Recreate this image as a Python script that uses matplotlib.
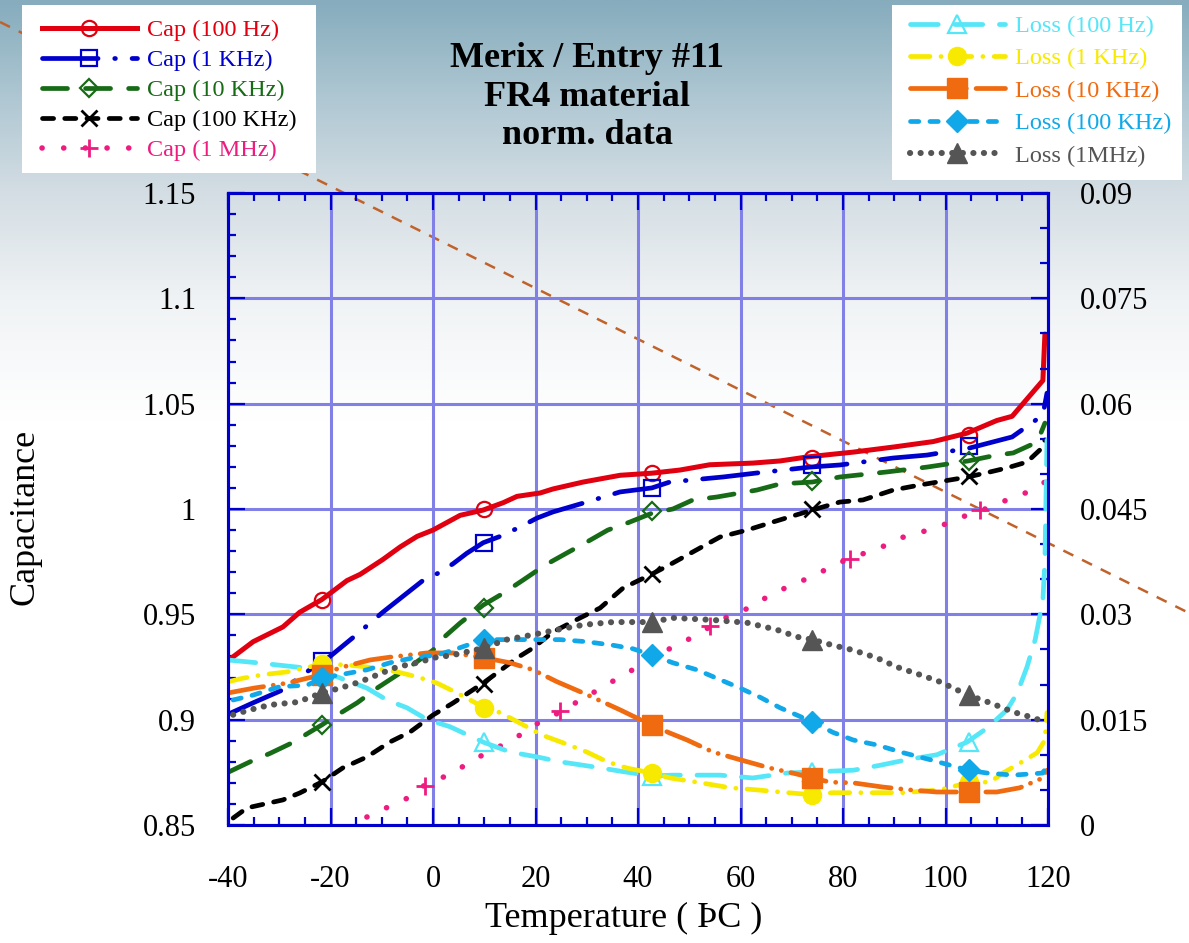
import numpy as np
import matplotlib.pyplot as plt
from matplotlib.lines import Line2D
from matplotlib.patches import Rectangle

plt.rcParams['font.family'] = ['Liberation Serif', 'DejaVu Serif']
plt.rcParams['lines.scale_dashes'] = False
plt.rcParams['axes.unicode_minus'] = False

# ---- data ----
cap100_t = [-40, -35.1, -29.3, -26.0, -21.7, -16.8, -14.2, -9.8, -6.4, -3.1, 0, 5.3, 9.8, 13.7, 16.4,
            20.9, 23.4, 29.3, 36.5, 42.7, 48.2, 54.0, 62.4, 67.7, 73.0, 78.0, 82.0, 89.8, 97.6, 104.2,
            110.0, 113.0, 119.0, 119.4]
cap100_v = [0.928, 0.937, 0.944, 0.951, 0.957, 0.966, 0.969, 0.976, 0.982, 0.987, 0.990, 0.997, 0.9995,
            1.003, 1.006, 1.0076, 1.0095, 1.0128, 1.016, 1.017, 1.0185, 1.021, 1.0218, 1.0228, 1.0247,
            1.026, 1.027, 1.0294, 1.032, 1.036, 1.042, 1.044, 1.061, 1.083]

cap1k_t = [-39.6, -35.1, -28.5, -26.3, -20.1, -15.6, -9.8, -2.0, 1.4, 3.9, 6.6, 9.8, 13.1, 17.0, 20.3,
           23.4, 30.0, 36.5, 42.7, 46.2, 56.6, 63.2, 73.6, 79.4, 89.8, 96.4, 104.8, 113.0, 119.0, 119.8]
cap1k_v = [0.903, 0.908, 0.915, 0.920, 0.930, 0.939, 0.951, 0.966, 0.970, 0.974, 0.979, 0.984, 0.987,
           0.9915, 0.9957, 0.9986, 1.0033, 1.0081, 1.010, 1.0128, 1.0152, 1.0171, 1.0199, 1.0209, 1.0242,
           1.0256, 1.029, 1.0342, 1.0446, 1.055]

cap10k_t = [-40, -35.7, -31.8, -27.5, -21.7, -19.5, -14.8, -10.9, -4.0, 0, 2.0, 5.3, 9.8, 13.7, 17.6,
            21.9, 26.1, 30.0, 34.1, 38.4, 42.7, 46.8, 50.7, 55.4, 63.2, 67.7, 74.0, 79.4, 88.6, 96.4,
            104.4, 110.0, 113.2, 117.9, 119.4]
cap10k_v = [0.875, 0.880, 0.884, 0.889, 0.8975, 0.901, 0.908, 0.915, 0.926, 0.933, 0.9388, 0.9459,
            0.9544, 0.960, 0.9663, 0.9734, 0.9791, 0.9843, 0.990, 0.9938, 0.998, 1.000, 1.0043, 1.0057,
            1.009, 1.0119, 1.0128, 1.0152, 1.0176, 1.0199, 1.0228, 1.0256, 1.0266, 1.0318, 1.0408]

cap100k_t = [-39.0, -36.3, -29.3, -26.0, -21.7, -17.6, -12.9, -8.4, -4.5, 0.0, 3.9, 9.8, 12.5, 16.4,
             19.5, 23.4, 28.7, 32.6, 37.1, 42.7, 45.7, 52.1, 56.0, 61.3, 66.3, 74.0, 79.4, 83.9, 89.8,
             95.0, 104.4, 108.7, 112.0, 115.9, 118.4, 119.4]
cap100k_v = [0.8533, 0.8581, 0.8619, 0.8652, 0.8704, 0.8771, 0.8823, 0.8894, 0.8941, 0.9022, 0.9079,
             0.9174, 0.9222, 0.9293, 0.934, 0.9416, 0.9483, 0.953, 0.9625, 0.9691, 0.9729, 0.9815,
             0.9867, 0.990, 0.9938, 0.9995, 1.0033, 1.0043, 1.009, 1.0114, 1.0152, 1.0176, 1.0195,
             1.0223, 1.028, 1.0328]

cap1m_t = [-12.9, -8.8, -4.5, -1.6, 3.9, 7.8, 12.5, 16.4, 20.5, 24.8, 28.7, 33.2, 37.1, 41.4, 45.7,
           49.6, 54.0, 58.0, 62.2, 66.3, 70.2, 74.9, 78.8, 81.4, 87.2, 91.1, 95.4, 99.5, 104.2, 106.7,
           112.0, 116.1, 119.4]
cap1m_v = [0.8538, 0.8585, 0.8633, 0.869, 0.8747, 0.8809, 0.8866, 0.8918, 0.8984, 0.9036, 0.9093,
           0.9155, 0.9212, 0.9269, 0.9331, 0.9378, 0.944, 0.9497, 0.9535, 0.9601, 0.9639, 0.9691,
           0.9739, 0.9767, 0.9815, 0.9862, 0.9891, 0.9924, 0.9971, 0.999, 1.0043, 1.0081, 1.0128]

loss100_t = [-40, -34.3, -25.4, -18.7, -12.9, -9.0, -5.1, -1.1, 3.3, 9.8, 15.0, 20.3, 24.8, 31.2, 37.1,
             42.7, 46.8, 56.0, 62.4, 69.1, 75.5, 82.0, 87.2, 92.5, 98.3, 104.2, 108.1, 112.0, 114.0,
             115.9, 117.5, 119.0, 119.4, 119.8]
loss100_v = [0.0235, 0.0231, 0.0224, 0.0211, 0.0195, 0.0178, 0.0167, 0.0150, 0.0140, 0.0118, 0.0104,
             0.0097, 0.0090, 0.0083, 0.0076, 0.0070, 0.0071, 0.0071, 0.0067, 0.0074, 0.0076, 0.0078,
             0.0085, 0.0093, 0.0100, 0.0118, 0.0138, 0.0164, 0.0188, 0.0225, 0.0264, 0.0320, 0.0377,
             0.0548]

loss1k_t = [-40, -37.1, -33.2, -28.5, -21.7, -16.8, -12.9, -7.0, -3.1, 0.8, 4.7, 9.8, 13.1, 17.0, 21.3,
            25.4, 30.0, 34.0, 37.9, 42.7, 46.2, 51.5, 58.0, 63.2, 67.7, 74.0, 78.0, 83.3, 91.7, 98.9,
            104.8, 108.7, 111.2, 114.5, 117.9, 119.4, 119.8]
loss1k_v = [0.0204, 0.0209, 0.0214, 0.0218, 0.0229, 0.0228, 0.0225, 0.0218, 0.0211, 0.0202, 0.0188,
            0.0168, 0.0160, 0.0145, 0.0128, 0.0117, 0.0104, 0.0090, 0.0081, 0.0074, 0.0067, 0.0061,
            0.0053, 0.0050, 0.0047, 0.0043, 0.0046, 0.0046, 0.0046, 0.0050, 0.0061, 0.0061, 0.0074,
            0.0088, 0.0103, 0.0121, 0.0160]

loss10k_t = [-40, -34.9, -28.5, -21.7, -18.1, -12.3, -8.4, -1.2, 3.9, 10.1, 15.0, 19.5, 24.2, 29.3,
             36.5, 42.7, 46.2, 49.6, 54.6, 59.9, 65.8, 70.2, 74.0, 77.5, 82.0, 87.8, 93.1, 98.3, 104.8,
             110.0, 114.5, 119.0, 119.8]
loss10k_v = [0.0188, 0.0195, 0.0202, 0.0214, 0.0224, 0.0235, 0.0239, 0.0245, 0.0245, 0.0238, 0.0231,
             0.0221, 0.0204, 0.0188, 0.0164, 0.0142, 0.0131, 0.0121, 0.0104, 0.0093, 0.0081, 0.0074,
             0.0067, 0.0061, 0.0060, 0.0054, 0.0050, 0.0047, 0.0047, 0.0047, 0.0053, 0.0067, 0.0078]

loss100k_t = [-39.0, -35.1, -29.9, -24.6, -21.7, -18.1, -12.9, -8.4, -3.9, 0.8, 3.9, 9.8, 15.0, 20.9,
              24.8, 30.0, 35.1, 39.0, 42.7, 46.8, 51.5, 56.0, 59.9, 63.8, 67.7, 74.0, 78.0, 82.0, 86.6,
              91.7, 97.0, 104.4, 108.1, 113.2, 119.0, 119.8]
loss100k_v = [0.0178, 0.0185, 0.0197, 0.0199, 0.0209, 0.0214, 0.0221, 0.0231, 0.0238, 0.0242, 0.0249,
              0.0264, 0.0264, 0.0264, 0.0264, 0.0261, 0.0256, 0.0251, 0.0242, 0.0231, 0.0221, 0.0207,
              0.0195, 0.0182, 0.0167, 0.0147, 0.0132, 0.0121, 0.0114, 0.0103, 0.0093, 0.0078, 0.0074,
              0.0071, 0.0074, 0.0085]

loss1m_t = [-39.0, -35.7, -31.8, -26.5, -21.7, -18.1, -14.2, -9.8, -7.0, -2.5, 0.0, 3.9, 9.8, 14.4, 19.5,
            24.2, 29.3, 35.1, 39.8, 42.7, 46.8, 54.6, 61.3, 67.1, 71.0, 74.0, 78.0, 82.0, 86.6, 90.5,
            95.0, 98.9, 104.4, 108.7, 113.2, 116.5, 119.4]
loss1m_v = [0.0157, 0.0164, 0.0171, 0.0175, 0.0188, 0.0195, 0.0204, 0.0217, 0.0225, 0.0232, 0.0238,
            0.0242, 0.0252, 0.0264, 0.0271, 0.0278, 0.0285, 0.0289, 0.0289, 0.0289, 0.0295, 0.0292,
            0.0288, 0.0278, 0.0268, 0.0264, 0.0256, 0.0249, 0.0238, 0.0225, 0.0214, 0.0204, 0.0185,
            0.0174, 0.0161, 0.0154, 0.0147]

# marker positions
mk_t = [-21.7, 9.9, 42.7, 74.0, 104.6]
mk_t_1m = [-1.6, 24.8, 54.0, 81.4, 106.7]
cap100_mk = [0.957, 1.000, 1.017, 1.024, 1.035]
cap1k_mk = [0.928, 0.984, 1.010, 1.021, 1.030]
cap10k_mk = [0.8975, 0.953, 0.999, 1.0135, 1.023]
cap100k_mk = [0.8705, 0.917, 0.969, 1.000, 1.0155]
cap1m_mk = [0.8685, 0.904, 0.9445, 0.9765, 0.9995]
loss100_mk = [0.0222, 0.0118, 0.0070, 0.0075, 0.0118]
loss1k_mk = [0.0229, 0.0167, 0.0074, 0.0043, 0.0061]
loss10k_mk = [0.0214, 0.0238, 0.0142, 0.0067, 0.0047]
loss100k_mk = [0.0209, 0.0264, 0.0242, 0.0147, 0.0078]
loss1m_mk = [0.0188, 0.0252, 0.0289, 0.0264, 0.0185]

cap_labels = ['Cap (100 Hz)', 'Cap (1 KHz)', 'Cap (10 KHz)', 'Cap (100 KHz)', 'Cap (1 MHz)']
loss_labels = ['Loss (100 Hz)', 'Loss (1 KHz)', 'Loss (10 KHz)', 'Loss (100 KHz)', 'Loss (1MHz)']

# styles
cap_styles = [
    dict(color='#E00010', lw=3.6, ls='-', marker='o', ms=11, mfc='none', mew=1.6),
    dict(color='#0000CC', lw=3.4, ls=(0, (40, 12, 0.5, 12)), marker='s', ms=11, mfc='none', mew=1.6),
    dict(color='#176B17', lw=3.4, ls=(0, (18, 13)), marker='D', ms=9, mfc='none', mew=1.6),
    dict(color='#000000', lw=3.4, ls=(0, (8, 8)), marker='x', ms=12, mew=2),
    dict(color='#EE1C80', lw=4, ls=(0, (0.1, 15.5)), marker='+', ms=13, mew=2),
]
loss_styles = [
    dict(color='#55E6F8', lw=3.4, ls=(0, (20, 12)), marker='^', ms=13, mfc='none', mew=1.6),
    dict(color='#F7EA00', lw=3.4, ls=(0, (14, 8, 0.1, 8)), marker='o', ms=13),
    dict(color='#F06A10', lw=3.4, ls=(0, (26, 7, 0.1, 7, 0.1, 7)), marker='s', ms=14),
    dict(color='#10A8E8', lw=3.4, ls=(0, (6, 8)), marker='D', ms=11),
    dict(color='#555555', lw=4.4, ls=(0, (0.1, 7.5)), marker='^', ms=14),
]

fig = plt.figure(figsize=(11.89, 9.43), dpi=100)

# background gradient
bg = fig.add_axes([0, 0, 1, 1], zorder=-10)
bg.axis('off')
rows = np.linspace(0, 943, 400)
stops_y = [0, 100, 190, 300, 420, 943]
stops_c = [(134, 172, 189), (176, 200, 211), (211, 221, 227), (240, 243, 245), (255, 255, 255), (255, 255, 255)]
grad = np.stack([np.interp(rows, stops_y, [c[i] for c in stops_c]) for i in range(3)], axis=-1) / 255
bg.imshow(grad[:, None, :], aspect='auto', extent=[0, 1, 0, 1])
bg.set_xlim(0, 1)
bg.set_ylim(0, 1)

# diagonal dashed line
fig.add_artist(Line2D([0, 1], [1 - 22 / 943, 1 - 613 / 943], transform=fig.transFigure,
                      color='#C0622A', lw=1.8, ls=(0, (8, 7)), zorder=-5))

ax = fig.add_axes([228 / 1189, 1 - 825 / 943, 820 / 1189, 632 / 943])
ax.set_facecolor('none')
ax2 = ax.twinx()

frame = '#0000CC'
grid_c = '#8080E6'

cap_data = [(cap100_t, cap100_v, cap100_mk), (cap1k_t, cap1k_v, cap1k_mk), (cap10k_t, cap10k_v, cap10k_mk),
            (cap100k_t, cap100k_v, cap100k_mk), (cap1m_t, cap1m_v, cap1m_mk)]
loss_data = [(loss100_t, loss100_v, loss100_mk), (loss1k_t, loss1k_v, loss1k_mk), (loss10k_t, loss10k_v, loss10k_mk),
             (loss100k_t, loss100k_v, loss100k_mk), (loss1m_t, loss1m_v, loss1m_mk)]


def draw(a, t, v, mk_x, mk_y, st):
    line_kw = dict(color=st['color'], lw=st['lw'], ls=st['ls'], dash_capstyle='round', solid_capstyle='round')
    a.plot(t, v, **line_kw)
    a.plot(mk_x, mk_y, ls='none', marker=st['marker'], ms=st['ms'], color=st['color'],
           mfc=st.get('mfc', st['color']), mec=st['color'], mew=st.get('mew', 1))


for i, (t, v, m) in enumerate(cap_data):
    draw(ax, t, v, mk_t_1m if i == 4 else mk_t, m, cap_styles[i])
for i, (t, v, m) in enumerate(loss_data):
    draw(ax2, t, v, mk_t, m, loss_styles[i])

ax.set_xlim(-40, 120)
ax.set_ylim(0.85, 1.15)
ax2.set_ylim(0, 0.09)
ax.set_xticks(np.arange(-40, 121, 20))
ax.set_xticks(np.arange(-40, 121, 5), minor=True)
ax.set_yticks(np.arange(0.85, 1.151, 0.05))
ax.set_yticks(np.arange(0.85, 1.151, 0.01), minor=True)
ax.set_yticklabels(['0.85', '0.9', '0.95', '1', '1.05', '1.1', '1.15'])
ax2.set_yticks(np.arange(0, 0.0901, 0.015))
ax2.set_yticks(np.arange(0, 0.0901, 0.005), minor=True)
ax2.set_yticklabels(['0', '0.015', '0.03', '0.045', '0.06', '0.075', '0.09'])

ax.set_axisbelow(True)
ax.grid(True, which='major', color=grid_c, lw=2.2)
for a in (ax, ax2):
    for s in a.spines.values():
        s.set_color(frame)
        s.set_linewidth(2.2)
ax.tick_params(which='both', direction='in', color=frame, width=1.6, top=True, right=False, labelsize=22)
ax.tick_params(axis='x', pad=29)
ax.tick_params(axis='y', pad=23)
ax.tick_params(which='major', length=12)
ax.tick_params(which='minor', length=6)
ax2.tick_params(which='both', direction='in', color=frame, width=1.6, labelsize=22, pad=23)
ax2.tick_params(which='major', length=12)
ax2.tick_params(which='minor', length=6)

fig.text(624 / 1189, 1 - 918 / 943, 'Temperature ( ÞC )', ha='center', va='center', fontsize=26)
fig.text(25 / 1189, 1 - 517 / 943, 'Capacitance', ha='center', va='center', rotation=90, fontsize=26)
fig.text(587 / 1189, 1 - 42 / 943, 'Merix / Entry #11\nFR4 material\nnorm. data', ha='center', va='top',
         fontsize=26, fontweight='bold', linespacing=1.22)

# legend boxes
fig.add_artist(Rectangle((22 / 1189, 1 - 173 / 943), 294 / 1189, 168 / 943, transform=fig.transFigure,
                         facecolor='white', edgecolor='none', zorder=4))
fig.add_artist(Rectangle((892 / 1189, 1 - 180 / 943), 290 / 1189, 175 / 943, transform=fig.transFigure,
                         facecolor='white', edgecolor='none', zorder=4))


def handles(styles):
    hs = []
    for st in styles:
        hs.append(Line2D([], [], color=st['color'], lw=st['lw'], ls=st['ls'], dash_capstyle='round',
                         marker=st['marker'], ms=st['ms'], mfc=st.get('mfc', st['color']), mec=st['color'],
                         mew=st.get('mew', 1)))
    return hs


leg1 = fig.legend(handles(cap_styles), cap_labels, loc='upper left', bbox_to_anchor=(42 / 1189, 1 - 19 / 943),
                  frameon=False, fontsize=17.5, handlelength=3.9, handletextpad=0.4, labelspacing=0.33,
                  borderpad=0, borderaxespad=0, numpoints=1,
                  labelcolor=[s['color'] for s in cap_styles])
leg2 = fig.legend(handles(loss_styles), loss_labels, loc='upper left', bbox_to_anchor=(910 / 1189, 1 - 15 / 943),
                  frameon=False, fontsize=17.5, handlelength=3.9, handletextpad=0.4, labelspacing=0.43,
                  borderpad=0, borderaxespad=0, numpoints=1,
                  labelcolor=[s['color'] for s in loss_styles])
leg1.set_zorder(6)
leg2.set_zorder(6)

fig.savefig('out.png', dpi=100)
